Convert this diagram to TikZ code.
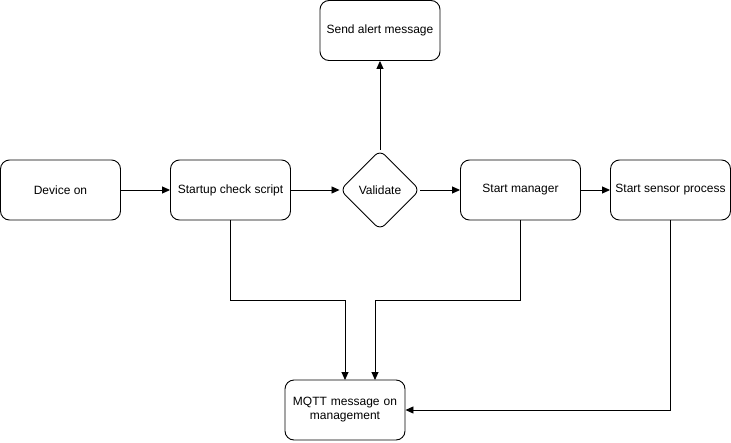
\documentclass[tikz,border=0pt]{standalone}
\usepackage{fontspec}
\setmainfont{Liberation Sans}
\usetikzlibrary{shapes.geometric,arrows.meta}
\begin{document}
\begin{tikzpicture}[x=1pt,y=-1pt,
  box/.style={draw,rounded corners=9pt,minimum width=120pt,minimum height=60pt,align=center,font=\fontsize{12pt}{14pt}\selectfont,inner sep=0pt,line width=0.9pt},
  dec/.style={draw,diamond,rounded corners=7pt,minimum width=80pt,minimum height=80pt,inner sep=0pt,font=\fontsize{12pt}{14pt}\selectfont,line width=0.9pt},
  conn/.style={-{Triangle[length=8pt,width=7pt]},line width=0.9pt}]
\useasboundingbox (0,0) rectangle (731,442);
\node[box] (alert) at (380,30.5) {Send alert message};
\node[box] (dev) at (60.5,190) {Device on};
\node[box] (start) at (230.5,190) {Startup check script};
\node[dec] (val) at (380,190) {Validate};
\node[box] (mgr) at (520.5,190) {Start manager};
\node[box] (sens) at (670.5,190) {Start sensor process};
\node[box,text width=110pt] (mqtt) at (345,410) {MQTT message on\\management};
\coordinate (m1) at (345,380);
\coordinate (m2) at (375,380);
\draw[conn] (dev) -- (start);
\draw[conn] (start) -- (val);
\draw[conn] (val) -- (mgr);
\draw[conn] (mgr) -- (sens);
\draw[conn] (val) -- (alert);
\draw[conn] (start.south) |- (345,300) -- (m1);
\draw[conn] (mgr.south) |- (375,300) -- (m2);
\draw[conn] (sens.south) |- (mqtt.east);
\end{tikzpicture}
\end{document}
